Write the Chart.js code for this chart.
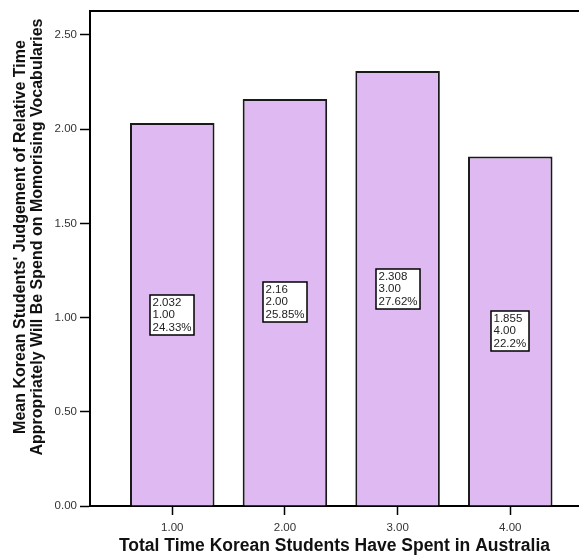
<!DOCTYPE html>
<html>
<head>
<meta charset="utf-8">
<script src="https://cdn.jsdelivr.net/npm/chart.js@4.4.1/dist/chart.umd.min.js"></script>
<style>
  body { margin: 0; background: #fff; }
  canvas { display: block; }
</style>
</head>
<body>
<canvas id="bars" width="579" height="557"></canvas>
<script>
// chart data
var timeGroups = [1, 2, 3, 4];
var meanValues = [2.032, 2.16, 2.308, 1.855];
var percentOfTotal = [24.33, 25.85, 27.62, 22.2];
var yTicks = [0, 0.5, 1, 1.5, 2, 2.5];

var yTitle = [
    "Mean Korean Students' Judgement of Relative Time",
    'Appropriately Will Be Spend on Momorising Vocabularies'
];
var xTitle = 'Total Time Korean Students Have Spent in Australia';

var FONT = '"Liberation Sans", Arial, sans-serif';

var points = timeGroups.map(function(g, i) {
    return { x: g, y: meanValues[i] };
});

// little white boxes in the middle of each bar
var boxLabels = {
    id: 'boxLabels',
    afterDatasetsDraw: function(chart) {
        var c = chart.ctx;
        var yScale = chart.scales.y;
        var bars = chart.getDatasetMeta(0).data;
        c.save();
        c.font = '11.5px ' + FONT;
        c.textBaseline = 'middle';
        c.textAlign = 'left';
        bars.forEach(function(bar, i) {
            var lines = [
                String(meanValues[i]),
                timeGroups[i].toFixed(2),
                percentOfTotal[i] + '%'
            ];
            var w = 0;
            lines.forEach(function(t) { w = Math.max(w, c.measureText(t).width); });
            w = Math.round(w + 5);
            var lh = 12.5;
            var h = 40;
            var cy = yScale.getPixelForValue(meanValues[i] / 2);
            var left = Math.round(bar.x - w / 2);
            var top = Math.round(cy - h / 2);
            c.fillStyle = '#fff';
            c.fillRect(left, top, w, h);
            c.lineWidth = 1.5;
            c.strokeStyle = '#000';
            c.strokeRect(left, top, w, h);
            c.fillStyle = '#222';
            lines.forEach(function(t, k) {
                c.fillText(t, left + 2.5, top + 1.5 + lh / 2 + k * lh);
            });
        });
        c.restore();
    }
};

// top frame line + y axis title
var frame = {
    id: 'frame',
    afterDraw: function(chart) {
        var c = chart.ctx;
        var a = chart.chartArea;
        c.save();
        c.strokeStyle = '#000';
        c.lineWidth = 2;
        c.beginPath();
        c.moveTo(a.left, a.top);
        c.lineTo(a.right, a.top);
        c.stroke();

        c.translate(0, 237);
        c.rotate(-Math.PI / 2);
        c.font = 'bold 16px ' + FONT;
        c.fillStyle = '#111';
        c.textAlign = 'center';
        c.textBaseline = 'alphabetic';
        c.fillText(yTitle[0], 0, 25);
        c.fillText(yTitle[1], 0, 42);
        c.restore();
    }
};

new Chart(document.getElementById('bars').getContext('2d'), {
    type: 'bar',
    data: {
        datasets: [{
            data: points,
            backgroundColor: '#dfbaf2',
            borderColor: '#1a1a1a',
            borderWidth: 2,
            borderSkipped: 'bottom',
            categoryPercentage: 1,
            barPercentage: 0.75
        }]
    },
    options: {
        responsive: false,
        animation: false,
        layout: { padding: { top: 11, right: 0, left: 0, bottom: 0 } },
        plugins: {
            legend: { display: false },
            tooltip: { enabled: false }
        },
        scales: {
            x: {
                type: 'linear',
                min: 0.27,
                max: 4.61,
                offset: false,
                afterFit: function(s) { s.height = 51; },
                afterBuildTicks: function(s) {
                    s.ticks = timeGroups.map(function(v) { return { value: v }; });
                },
                grid: { display: true, drawOnChartArea: false, offset: false, tickLength: 9, tickColor: '#000', tickWidth: 1.5 },
                border: { color: '#000', width: 2 },
                ticks: {
                    padding: 6,
                    color: '#333',
                    font: { family: FONT, size: 11.5 },
                    callback: function(v) { return Number(v).toFixed(2); }
                },
                title: {
                    display: true,
                    text: xTitle,
                    color: '#111',
                    padding: { top: 0, bottom: 0 },
                    font: { family: FONT, size: 17.5, weight: 'bold' }
                }
            },
            y: {
                min: 0,
                max: 2.627,
                afterFit: function(s) { s.width = 90; },
                afterBuildTicks: function(s) {
                    s.ticks = yTicks.map(function(v) { return { value: v }; });
                },
                grid: { display: true, drawOnChartArea: false, tickLength: 10, tickColor: '#000', tickWidth: 1.5 },
                border: { color: '#000', width: 2 },
                ticks: {
                    padding: 3,
                    color: '#333',
                    font: { family: FONT, size: 11.5 },
                    callback: function(v) { return Number(v).toFixed(2); }
                }
            }
        }
    },
    plugins: [boxLabels, frame]
});
</script>
</body>
</html>
